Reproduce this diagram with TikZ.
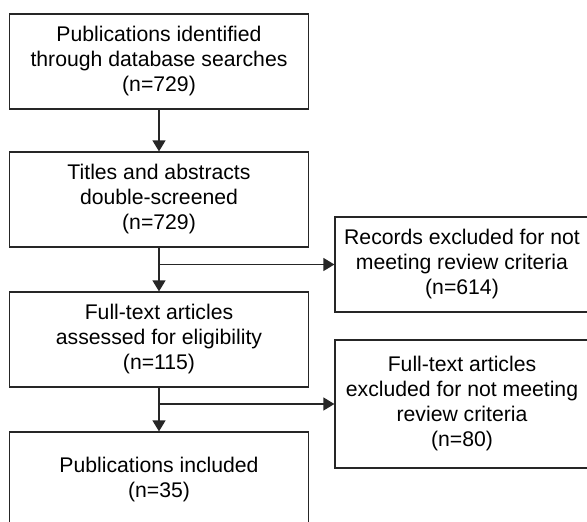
\documentclass[tikz,border=0pt]{standalone}
\usepackage{fontspec}
\setmainfont{Liberation Sans}
\usetikzlibrary{arrows.meta}
\begin{document}
\begin{tikzpicture}[x=1pt,y=-1pt,
  box/.style={draw=black!85, line width=1.2pt, inner sep=0pt, align=center,
    font=\fontsize{21.2}{25}\selectfont, text=black},
  mainbox/.style={box, minimum width=298.5pt, minimum height=95pt},
  sidebox/.style={box, minimum width=254pt},
  conn/.style={draw=black!85, line width=1.2pt, -{Triangle[width=13pt,length=11pt]}}]
\useasboundingbox (0,0) rectangle (587,522);
\clip (0,0) rectangle (587,522);
\node[mainbox] (b1) at (159,61.5) {Publications identified\\through database searches\\(n=729)};
\node[mainbox] (b2) at (159,199.5) {Titles and abstracts\\double-screened\\(n=729)};
\node[mainbox] (b3) at (159,339.5) {Full-text articles\\assessed for eligibility\\(n=115)};
\node[mainbox, minimum height=96pt] (b4) at (159,480) {Publications included\\(n=35)};
\node[sidebox, minimum height=95pt] (r1) at (462,264.5) {Records excluded for not\\meeting review criteria\\(n=614)};
\node[sidebox, minimum height=128pt] (r2) at (462,404) {Full-text articles\\excluded for not meeting\\review criteria\\(n=80)};
\draw[conn] (b1.south) -- (b2.north);
\draw[conn] (b2.south) -- (b3.north);
\draw[conn] (b3.south) -- (b4.north);
\draw[conn] (b2.south |- r1.west) -- (r1.west);
\draw[conn] (b3.south |- r2.west) -- (r2.west);
\end{tikzpicture}
\end{document}
